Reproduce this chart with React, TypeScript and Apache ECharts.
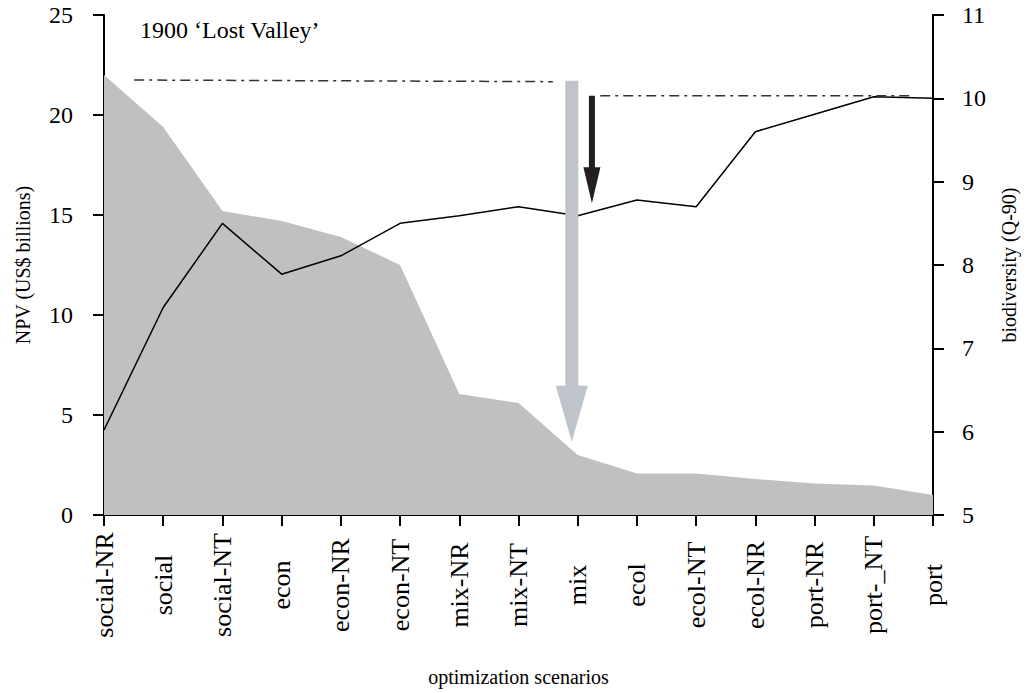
import React, { useEffect, useRef } from 'react';
import * as echarts from 'echarts';

const categories = ['social-NR', 'social', 'social-NT', 'econ', 'econ-NR', 'econ-NT', 'mix-NR', 'mix-NT', 'mix', 'ecol', 'ecol-NT', 'ecol-NR', 'port-NR', 'port-_NT', 'port'];
const npv = [22.0, 19.4, 15.2, 14.7, 13.9, 12.5, 6.05, 5.6, 3.0, 2.07, 2.07, 1.8, 1.58, 1.47, 1.0];
const biodiversity = [6.02, 7.49, 8.5, 7.89, 8.11, 8.5, 8.59, 8.7, 8.59, 8.78, 8.7, 9.6, 9.81, 10.02, 10.0];
const npvAxis = { min: 0, max: 25, interval: 5 };
const bioAxis = { min: 5, max: 11, interval: 1 };
// annotation lines: [category position, biodiversity]
const refLine1 = [[0.51, 10.22], [7.58, 10.2]];
const refLine2 = [[8.38, 10.03], [13.65, 10.03]];
const grayArrow = { x: 7.9, from: 10.21, to: 5.88 };
const blackArrow = { x: 8.24, from: 10.03, to: 8.74 };
const panelTitle = '1900 \u2018Lost Valley\u2019';

const FONT = '"Liberation Serif", "Times New Roman", serif';

export default function App() {
  const ref = useRef<HTMLDivElement>(null);
  useEffect(() => {
    if (!ref.current) return;
    const chart = echarts.init(ref.current, undefined, { renderer: 'svg' });
    const axisLine = { show: true, lineStyle: { color: '#000', width: 2 } };
    const axisTick = { show: true, length: 11, lineStyle: { color: '#000', width: 2 } };
    const tickStyle = { color: '#000', fontSize: 24, fontFamily: FONT };
    const nameStyle = { color: '#000', fontSize: 20, fontFamily: FONT };
    chart.setOption({
      animation: false,
      backgroundColor: '#fff',
      textStyle: { fontFamily: FONT },
      grid: { left: 104, right: 96, top: 15, bottom: 178, containLabel: false },
      xAxis: [
        {
          type: 'category',
          data: categories,
          boundaryGap: false,
          axisLine,
          axisTick: { ...axisTick, interval: 0 },
          axisLabel: { ...tickStyle, fontSize: 26, rotate: 90, interval: 0, margin: 70, align: 'center', verticalAlign: 'middle' },
          splitLine: { show: false },
          name: 'optimization scenarios',
          nameLocation: 'middle',
          nameGap: 152,
          nameTextStyle: nameStyle,
        },
        { type: 'value', min: 0, max: categories.length - 1, show: false },
      ],
      yAxis: [
        {
          type: 'value',
          position: 'left',
          ...npvAxis,
          axisLine,
          axisTick,
          axisLabel: { ...tickStyle, margin: 31 },
          splitLine: { show: false },
          name: 'NPV (US$ billions)',
          nameLocation: 'middle',
          nameRotate: 90,
          nameGap: 71,
          nameTextStyle: nameStyle,
        },
        {
          type: 'value',
          position: 'right',
          ...bioAxis,
          axisLine,
          axisTick,
          axisLabel: { ...tickStyle, margin: 29 },
          splitLine: { show: false },
          name: 'biodiversity (Q-90)',
          nameLocation: 'middle',
          nameRotate: 90,
          nameGap: 66,
          nameTextStyle: nameStyle,
        },
      ],
      series: [
        {
          type: 'line',
          name: 'NPV',
          xAxisIndex: 0,
          yAxisIndex: 0,
          data: npv,
          symbol: 'none',
          lineStyle: { width: 0 },
          areaStyle: { color: '#c0c0c0', opacity: 1 },
          z: 1,
        },
        {
          type: 'line',
          name: 'biodiversity',
          xAxisIndex: 0,
          yAxisIndex: 1,
          data: biodiversity,
          symbol: 'none',
          lineStyle: { color: '#000', width: 1.5 },
          z: 3,
        },
        {
          type: 'line',
          xAxisIndex: 1,
          yAxisIndex: 1,
          data: refLine1,
          symbol: 'none',
          lineStyle: { color: '#333', width: 1.5, type: [10, 5, 3, 5] },
          z: 3,
        },
        {
          type: 'line',
          xAxisIndex: 1,
          yAxisIndex: 1,
          data: refLine2,
          symbol: 'none',
          lineStyle: { color: '#333', width: 1.5, type: [10, 5, 3, 5] },
          z: 3,
        },
      ],
    });

    const arrow = (a: { x: number; from: number; to: number }, sw: number, hw: number, hl: number, color: string) => {
      const p1 = chart.convertToPixel({ seriesIndex: 2 }, [a.x, a.from]) as number[];
      const p2 = chart.convertToPixel({ seriesIndex: 2 }, [a.x, a.to]) as number[];
      const x = p1[0];
      const top = p1[1];
      const tip = p2[1];
      return {
        type: 'polygon',
        z: 100,
        shape: {
          points: [
            [x - sw / 2, top],
            [x + sw / 2, top],
            [x + sw / 2, tip - hl],
            [x + hw / 2, tip - hl],
            [x, tip],
            [x - hw / 2, tip - hl],
            [x - sw / 2, tip - hl],
          ],
        },
        style: { fill: color },
      };
    };

    chart.setOption({
      graphic: {
        elements: [
          arrow(grayArrow, 13, 32, 56, '#bfc3ca'),
          arrow(blackArrow, 6, 17, 36, '#231f20'),
          {
            type: 'text',
            z: 100,
            x: 140,
            y: 30,
            style: { text: panelTitle, fill: '#000', font: `24px ${FONT}`, verticalAlign: 'middle' },
          },
        ],
      },
    });

    return () => chart.dispose();
  }, []);
  return <div ref={ref} style={{ position: 'fixed', left: 0, top: 0, width: 1029, height: 693 }} />;
}
